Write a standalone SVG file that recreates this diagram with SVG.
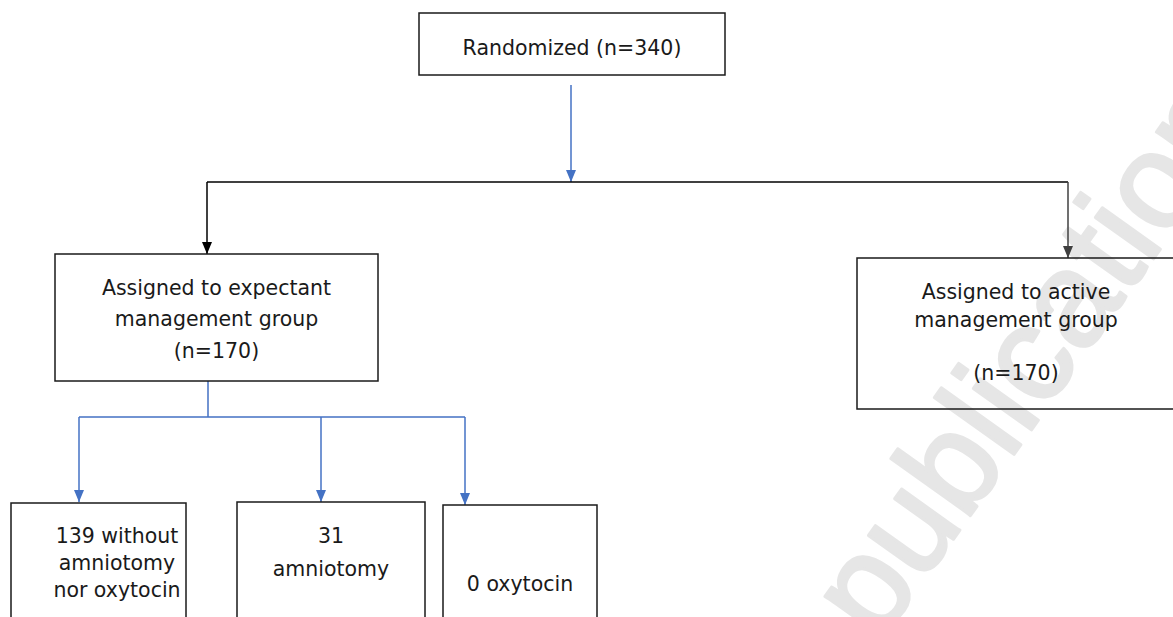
<svg xmlns="http://www.w3.org/2000/svg" width="1173" height="617" viewBox="0 0 1173 617">
<defs>
<style>
.box{fill:none;stroke:#1a1a1a;stroke-width:1.5}
.t{font-family:"DejaVu Sans",Verdana,sans-serif;font-size:20.5px;fill:#1a1a1a;text-anchor:middle}
.blue{fill:none;stroke:#4472C4;stroke-width:1.5}
.blk{fill:none;stroke:#000;stroke-width:1.5}
.gry{fill:none;stroke:#404040;stroke-width:1.5}
.wm{font-family:"Liberation Sans",Arial,sans-serif;font-size:135px;fill:#e6e6e6;stroke:#e6e6e6;stroke-width:3;stroke-linejoin:round}
</style>
<marker id="ab" markerUnits="userSpaceOnUse" markerWidth="12" markerHeight="12" viewBox="0 0 12 12" refX="6" refY="12">
<path d="M1,0 L11,0 L6,12 Z" fill="#4472C4"/>
</marker>
<marker id="ak" markerUnits="userSpaceOnUse" markerWidth="12" markerHeight="12" viewBox="0 0 12 12" refX="6" refY="12">
<path d="M1,0 L11,0 L6,12 Z" fill="#000"/>
</marker>
<marker id="ag" markerUnits="userSpaceOnUse" markerWidth="12" markerHeight="12" viewBox="0 0 12 12" refX="6" refY="12">
<path d="M1,0 L11,0 L6,12 Z" fill="#404040"/>
</marker>
</defs>
<rect width="1173" height="617" fill="#fff"/>
<text class="wm" transform="translate(878,645) rotate(-54.5)">publication</text>
<g id="connectors">
<path class="blue" d="M571,85 V182" marker-end="url(#ab)"/>
<path class="blk" d="M207,182 H1068"/>
<path class="blk" d="M207,182 V254" marker-end="url(#ak)"/>
<path class="gry" d="M1068,182 V258" marker-end="url(#ag)"/>
<path class="blue" d="M208,381 V417 M79,417 H465"/>
<path class="blue" d="M79,417 V502" marker-end="url(#ab)"/>
<path class="blue" d="M321,417 V502" marker-end="url(#ab)"/>
<path class="blue" d="M465,417 V505" marker-end="url(#ab)"/>
</g>
<g id="randomized">
<rect class="box" x="419" y="13" width="306" height="62"/>
<text class="t" x="572" y="55">Randomized (n=340)</text>
</g>
<g id="expectant">
<rect class="box" x="55" y="254" width="323" height="127"/>
<text class="t" x="216.5" y="295">Assigned to expectant</text>
<text class="t" x="216.5" y="326">management group</text>
<text class="t" x="216.5" y="358">(n=170)</text>
</g>
<g id="active">
<rect class="box" x="857" y="258" width="320" height="151"/>
<text class="t" x="1016" y="299">Assigned to active</text>
<text class="t" x="1016" y="327">management group</text>
<text class="t" x="1016" y="380">(n=170)</text>
</g>
<g id="without">
<rect class="box" x="11" y="503" width="175" height="130"/>
<text class="t" x="117" y="543">139 without</text>
<text class="t" x="117" y="570">amniotomy</text>
<text class="t" x="117" y="597">nor oxytocin</text>
</g>
<g id="amniotomy">
<rect class="box" x="237" y="502" width="188" height="130"/>
<text class="t" x="331" y="543">31</text>
<text class="t" x="331" y="576">amniotomy</text>
</g>
<g id="oxytocin">
<rect class="box" x="443" y="505" width="154" height="130"/>
<text class="t" x="520" y="591">0 oxytocin</text>
</g>
</svg>
